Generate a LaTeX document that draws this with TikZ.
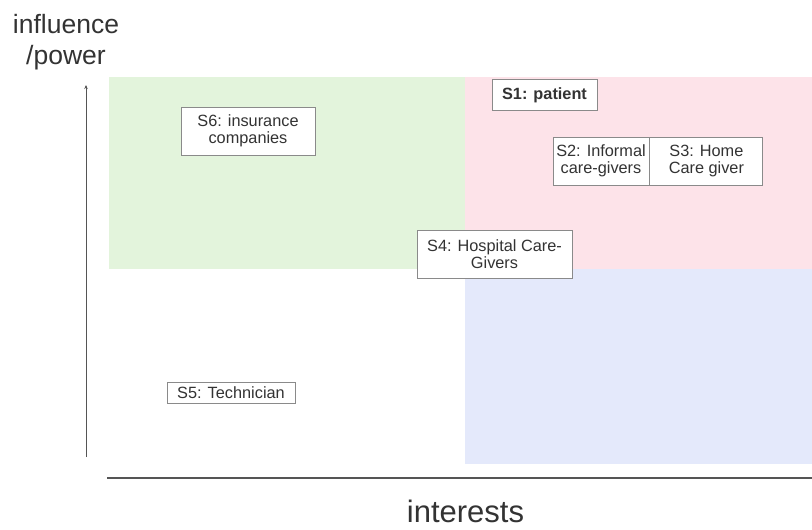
\documentclass[tikz,border=0pt]{standalone}
\usepackage{fontspec}
\setmainfont{Liberation Sans}
\usetikzlibrary{arrows.meta}
\definecolor{qgreen}{HTML}{E3F4DC}
\definecolor{qpink}{HTML}{FDE3E9}
\definecolor{qblue}{HTML}{E4E9FB}
\definecolor{boxline}{HTML}{8A8A8A}
\definecolor{axisline}{HTML}{555555}
\definecolor{txt}{HTML}{333333}
\tikzset{
  stake/.style={draw=boxline, line width=0.9pt, fill=white, inner sep=0pt,
    align=center, font=\fontsize{16.3}{17.5}\selectfont, text=txt},
  axislabel/.style={text=txt, inner sep=0pt, anchor=base}
}
\begin{document}
\begin{tikzpicture}[x=1pt,y=-1pt]
\useasboundingbox (0,0) rectangle (812,530);
% quadrants
\fill[qgreen] (109,77) rectangle (465,269);
\fill[qpink] (465,77) rectangle (812,269);
\fill[qblue] (465,269) rectangle (812,464);
% axes
\coordinate (ybot) at (86,457);
\coordinate (ytop) at (86,85);
\coordinate (xl) at (107,478);
\coordinate (xr) at (812,478);
\draw[axisline, line width=0.9pt, -{Stealth[length=4pt,width=3.5pt]}] (ybot) -- (ytop);
\draw[axisline, line width=1.6pt] (xl) -- (xr);
\node[axislabel, font=\fontsize{26.5}{30}\selectfont] (ylab1) at (66,33) {influence};
\node[axislabel, font=\fontsize{26.5}{30}\selectfont] (ylab2) at (66,64) {/power};
\node[axislabel, font=\fontsize{31}{34}\selectfont, text depth=0pt] (xlab) at (465.5,522) {interests};
% stakeholders
\node[stake, minimum width=134pt, minimum height=48pt] (s6) at (248,131) {S6: insurance\\companies};
\node[stake, minimum width=105pt, minimum height=31pt, font=\fontsize{16.3}{17.5}\selectfont\bfseries] (s1) at (544.5,95) {S1: patient};
\node[stake, minimum width=96pt, minimum height=48pt] (s2) at (601,161) {S2: Informal\\care-givers};
\node[stake, minimum width=113pt, minimum height=48pt, anchor=west] (s3) at (s2.east) {S3: Home\\Care giver};
\node[stake, minimum width=155pt, minimum height=48pt] (s4) at (494.5,254) {S4: Hospital Care-\\Givers};
\node[stake, minimum width=128pt, minimum height=21pt] (s5) at (231,392.5) {S5: Technician};
\end{tikzpicture}
\end{document}
